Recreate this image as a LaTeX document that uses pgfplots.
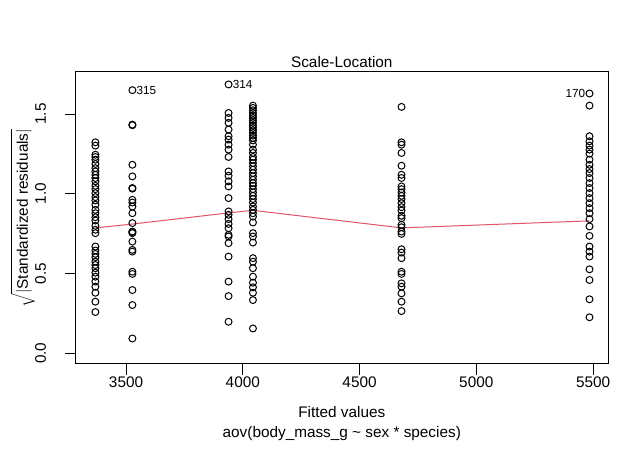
\documentclass[border=0pt]{standalone}
\usepackage{fontspec}
\setmainfont{Liberation Sans}
\usepackage{pgfplots}
\pgfplotsset{compat=1.18}
\definecolor{rred}{HTML}{DF536B}

% one table per fitted group (x = fitted value, y = sqrt|std resid|)
\pgfplotstableread{
x y
3368.8 1.323
3368.8 1.302
3368.8 1.245
3368.8 1.231
3368.8 1.214
3368.8 1.187
3368.8 1.161
3368.8 1.140
3368.8 1.119
3368.8 1.099
3368.8 1.078
3368.8 1.050
3368.8 1.029
3368.8 1.004
3368.8 0.979
3368.8 0.958
3368.8 0.931
3368.8 0.899
3368.8 0.878
3368.8 0.853
3368.8 0.832
3368.8 0.799
3368.8 0.774
3368.8 0.753
3368.8 0.669
3368.8 0.644
3368.8 0.623
3368.8 0.602
3368.8 0.574
3368.8 0.553
3368.8 0.533
3368.8 0.505
3368.8 0.480
3368.8 0.449
3368.8 0.417
3368.8 0.379
3368.8 0.323
3368.8 0.258
}\adelieF
\pgfplotstableread{
x y
3527.2 1.650
3527.2 1.434
3527.2 1.430
3527.2 1.182
3527.2 1.109
3527.2 1.036
3527.2 1.032
3527.2 0.962
3527.2 0.945
3527.2 0.920
3527.2 0.878
3527.2 0.816
3527.2 0.763
3527.2 0.760
3527.2 0.753
3527.2 0.700
3527.2 0.648
3527.2 0.637
3527.2 0.511
3527.2 0.497
3527.2 0.396
3527.2 0.302
3527.2 0.092
}\chinF
\pgfplotstableread{
x y
3939.0 1.686
3939.0 1.507
3939.0 1.476
3939.0 1.445
3939.0 1.403
3939.0 1.361
3939.0 1.340
3939.0 1.308
3939.0 1.277
3939.0 1.231
3939.0 1.140
3939.0 1.113
3939.0 1.078
3939.0 1.046
3939.0 0.973
3939.0 0.889
3939.0 0.868
3939.0 0.841
3939.0 0.811
3939.0 0.784
3939.0 0.742
3939.0 0.732
3939.0 0.690
3939.0 0.606
3939.0 0.449
3939.0 0.358
3939.0 0.197
}\chinM
\pgfplotstableread{
x y
4043.5 1.553
4043.5 1.539
4043.5 1.524
4043.5 1.507
4043.5 1.491
4043.5 1.476
4043.5 1.461
4043.5 1.445
4043.5 1.428
4043.5 1.413
4043.5 1.398
4043.5 1.382
4043.5 1.365
4043.5 1.350
4043.5 1.335
4043.5 1.308
4043.5 1.277
4043.5 1.256
4043.5 1.231
4043.5 1.214
4043.5 1.193
4043.5 1.172
4043.5 1.151
4043.5 1.130
4043.5 1.109
4043.5 1.088
4043.5 1.067
4043.5 1.050
4043.5 1.029
4043.5 1.008
4043.5 0.987
4043.5 0.967
4043.5 0.945
4043.5 0.920
4043.5 0.899
4043.5 0.878
4043.5 0.857
4043.5 0.820
4043.5 0.753
4043.5 0.732
4043.5 0.694
4043.5 0.596
4043.5 0.574
4043.5 0.533
4043.5 0.480
4043.5 0.442
4043.5 0.413
4043.5 0.379
4043.5 0.333
4043.5 0.155
}\adelieM
\pgfplotstableread{
x y
4679.7 1.545
4679.7 1.323
4679.7 1.308
4679.7 1.256
4679.7 1.176
4679.7 1.119
4679.7 1.099
4679.7 1.046
4679.7 1.029
4679.7 1.008
4679.7 0.987
4679.7 0.967
4679.7 0.941
4679.7 0.916
4679.7 0.895
4679.7 0.862
4679.7 0.847
4679.7 0.805
4679.7 0.790
4679.7 0.763
4679.7 0.748
4679.7 0.652
4679.7 0.631
4679.7 0.596
4679.7 0.511
4679.7 0.497
4679.7 0.438
4679.7 0.417
4679.7 0.375
4679.7 0.323
4679.7 0.264
}\gentooF
\pgfplotstableread{
x y
5484.8 1.629
5484.8 1.553
5484.8 1.361
5484.8 1.329
5484.8 1.302
5484.8 1.277
5484.8 1.252
5484.8 1.214
5484.8 1.182
5484.8 1.155
5484.8 1.130
5484.8 1.099
5484.8 1.067
5484.8 1.036
5484.8 1.004
5484.8 0.973
5484.8 0.941
5484.8 0.910
5484.8 0.878
5484.8 0.841
5484.8 0.795
5484.8 0.736
5484.8 0.669
5484.8 0.637
5484.8 0.606
5484.8 0.526
5484.8 0.459
5484.8 0.338
5484.8 0.225
}\gentooM

\begin{document}
\begin{tikzpicture}
% page = 640x457 px at 0.75pt per px; axis box at px (75.6,72)-(608,364)
\useasboundingbox (-56.7pt,-69.75pt) rectangle ++(480pt,342.75pt);
\begin{axis}[
  scale only axis,
  width=399.3pt, height=219pt,
  xmin=3284, xmax=5564,
  ymin=-0.068, ymax=1.764,
  axis line style={line width=0.75pt},
  xtick={3500,4000,4500,5000,5500},
  ytick={0,0.5,1,1.5},
  xtick pos=lower, ytick pos=left,
  tick align=outside,
  major tick length=8pt,
  tick style={line width=0.75pt, black},
  font=\fontsize{11.5}{13.8}\selectfont,
  /pgf/number format/assume math mode=true,
  /pgf/number format/1000 sep={},
  yticklabel={\pgfmathprintnumber[fixed,fixed zerofill,precision=1]{\tick}},
  xticklabel style={anchor=base, yshift=-9.5pt},
  yticklabel style={rotate=90, anchor=base, yshift=14.3pt},
  clip=false,
  pt/.style={only marks, mark=o, mark size=2.6pt, line width=0.75pt, black},
]
\addplot[pt] table {\adelieF};
\addplot[pt] table {\chinF};
\addplot[pt] table {\chinM};
\addplot[pt] table {\adelieM};
\addplot[pt] table {\gentooF};
\addplot[pt] table {\gentooM};
% lowess smooth
\addplot[sharp plot, no marks, rred, line width=0.75pt] coordinates {
  (3368.8,0.786) (3527.2,0.810) (3939.0,0.880) (4043.5,0.896) (4679.7,0.786) (5484.8,0.830)
};
% labelled extreme points
\node[anchor=west, inner sep=0pt, xshift=3pt, font=\fontsize{8.8}{10}\selectfont] at (axis cs:3527.2,1.650) {315};
\node[anchor=west, inner sep=0pt, xshift=3pt, font=\fontsize{8.8}{10}\selectfont] at (axis cs:3939.0,1.686) {314};
\node[anchor=east, inner sep=0pt, xshift=-3pt, font=\fontsize{8.8}{10}\selectfont] at (axis cs:5484.8,1.629) {170};
% title and axis labels
\node[anchor=base, inner sep=0pt] at ([yshift=3.4pt]rel axis cs:0.5,1) {Scale-Location};
\node[anchor=base, inner sep=0pt] at ([yshift=-40.1pt]rel axis cs:0.5,0) {Fitted values};
\node[anchor=base, inner sep=0pt] at ([yshift=-55.1pt]rel axis cs:0.5,0) {aov(body\_mass\_g \textasciitilde{} sex * species)};
\node[rotate=90, anchor=center, inner sep=0pt] at ([xshift=-39.5pt]rel axis cs:0,0.5) {$\sqrt{|\mbox{Standardized residuals}|}$};
\end{axis}
\end{tikzpicture}
\end{document}
